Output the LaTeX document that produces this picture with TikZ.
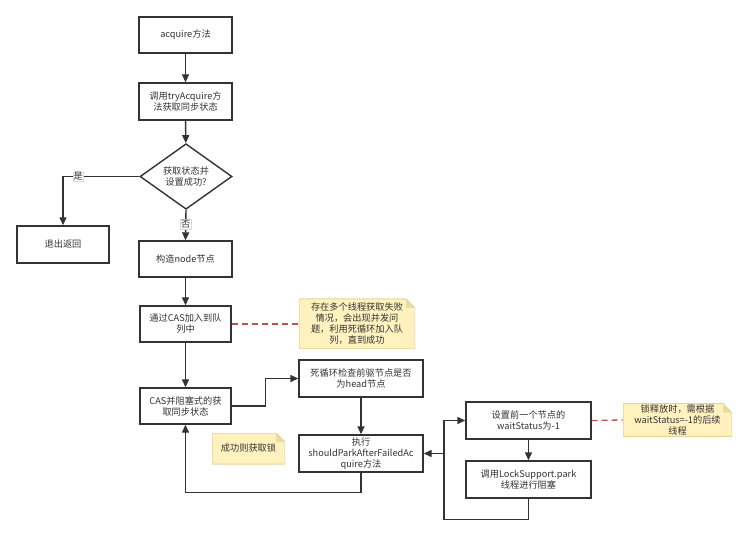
\documentclass[tikz,border=0pt]{standalone}
\usepackage{fontspec}
\setmainfont{Noto Sans CJK SC}
\usetikzlibrary{arrows.meta,shapes.geometric}
\definecolor{ink}{HTML}{333333}
\definecolor{notefill}{HTML}{FFF2BE}
\definecolor{noteedge}{HTML}{E2D49A}
\definecolor{notefold}{HTML}{E9DCA0}
\definecolor{dashred}{HTML}{B85450}
\tikzset{
  every node/.style={font=\fontsize{9.2}{11}\selectfont, text=ink},
  box/.style={draw=ink, line width=1.4pt, fill=white, align=center, inner sep=1pt},
  dia/.style={diamond, draw=ink, line width=1.4pt, fill=white, align=center, inner sep=0pt,
    minimum width=92pt, minimum height=49pt},
  note/.style={fill=notefill, align=center, inner sep=1pt,
    path picture={
      \fill[white] ([xshift=-9pt]path picture bounding box.north east) -- (path picture bounding box.north east)
        -- ([yshift=-9pt]path picture bounding box.north east) -- cycle;
      \fill[notefold] ([xshift=-9pt]path picture bounding box.north east) -- ([yshift=-9pt]path picture bounding box.north east)
        -- ([xshift=-9pt,yshift=-9pt]path picture bounding box.north east) -- cycle;
      \draw[noteedge, line width=1pt] (path picture bounding box.south west) -- (path picture bounding box.north west)
        -- ([xshift=-9pt]path picture bounding box.north east) -- ([yshift=-9pt]path picture bounding box.north east)
        -- (path picture bounding box.south east) -- cycle;
    }},
  arr/.style={draw=ink, line width=1.4pt, -{Triangle[length=8pt,width=7pt]}},
  lbl/.style={fill=white, draw=black!15, line width=0.4pt, inner sep=0.6pt},
  dashlink/.style={draw=dashred, line width=1.3pt, dash pattern=on 6pt off 4pt}
}
\begin{document}
\begin{tikzpicture}[x=1pt,y=-1pt]
\useasboundingbox (0,0) rectangle (750,537);
\node[box, minimum width=93pt, minimum height=36pt] (acq) at (185.5,35) {acquire方法};
\node[box, minimum width=93pt, minimum height=37pt] (try) at (185.5,101.5) {调用tryAcquire方\\法获取同步状态};
\node[dia] (dec) at (186,176.5) {获取状态并\\设置成功?};
\node[box, minimum width=92pt, minimum height=37pt] (exit) at (63,244.5) {退出返回};
\node[box, minimum width=93pt, minimum height=36pt] (mk) at (185.5,259) {构造node节点};
\node[box, minimum width=91pt, minimum height=36pt] (cas1) at (185.5,324) {通过CAS加入到队\\列中};
\node[box, minimum width=91pt, minimum height=36pt] (cas2) at (185.5,406) {CAS并阻塞式的获\\取同步状态};
\node[box, minimum width=124pt, minimum height=37pt] (loop) at (361,378.5) {死循环检查前驱节点是否\\为head节点};
\node[box, minimum width=124pt, minimum height=37pt] (exec) at (361,453.5) {执行\\shouldParkAfterFailedAc\\quire方法};
\node[box, minimum width=125pt, minimum height=37pt] (set) at (528.5,420.5) {设置前一个节点的\\waitStatus为-1};
\node[box, minimum width=125pt, minimum height=37pt] (park) at (528.5,479.5) {调用LockSupport.park\\线程进行阻塞};
\node[note, minimum width=116pt, minimum height=50pt] (n1) at (357,324) {存在多个线程获取失败\\情况，会出现并发问\\题，利用死循环加入队\\列，直到成功};
\node[note, minimum width=73pt, minimum height=31pt] (n2) at (248.5,448.5) {成功则获取锁};
\node[note, minimum width=109pt, minimum height=32pt] (n3) at (677.5,420) {锁释放时，需根据\\waitStatus=-1的后续\\线程};
\coordinate (j) at (444,453.5);

\draw[arr] (acq) -- (try);
\draw[arr] (try) -- (dec);
\draw[arr] (dec.west) -| node[lbl, pos=0.4] {是} (exit.north);
\draw[arr] (dec.south) -- node[lbl, pos=0.47] {否} (mk.north);
\draw[arr] (mk) -- (cas1);
\draw[arr] (cas1) -- (cas2);
\draw[dashlink] (cas1.east) -- (n1.west);
\draw[arr] (cas2.east) -- ++(34,0) |- (loop.west);
\draw[arr] (loop) -- (exec);
\draw[arr] (exec.south) -- ++(0,20) -| (cas2.south);
\draw[arr] (set) -- (park);
\draw[arr] (park.south) -- ++(0,21) -| (j) |- (set.west);
\draw[arr] (j) -- (exec.east);
\draw[dashlink] (set.east) -- (n3.west);
\end{tikzpicture}
\end{document}
